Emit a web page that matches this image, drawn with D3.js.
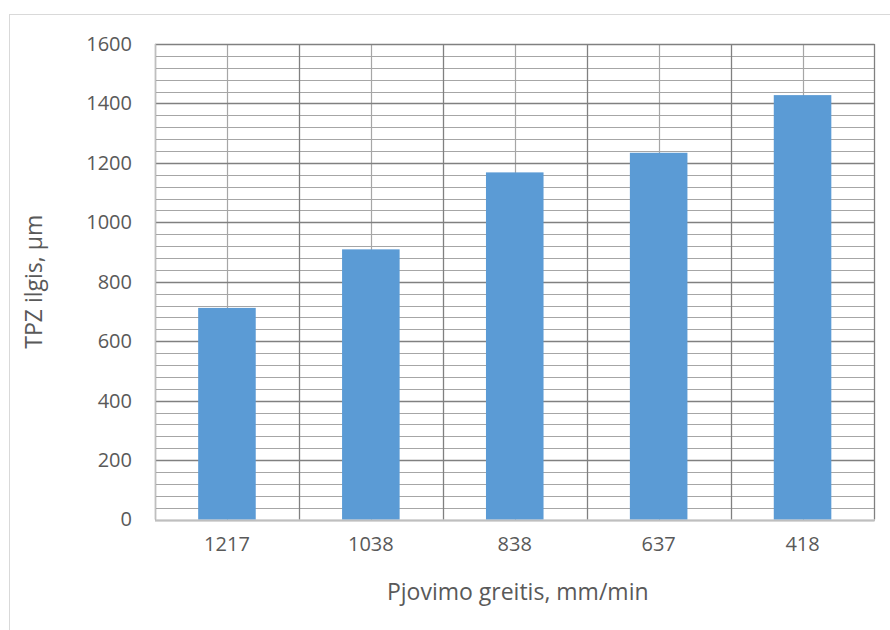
<!DOCTYPE html>
<html>
<head>
<meta charset="utf-8">
<script src="https://cdn.jsdelivr.net/npm/d3@7"></script>
<style>
  html, body { margin: 0; padding: 0; background: #fff; }
  svg { display: block; font-family: "Open Sans", "Noto Sans", sans-serif; }
</style>
</head>
<body>
<svg id="chart" width="890" height="630"></svg>
<script>
// Cutting speed categories (mm/min) and measured TPZ length (µm)
const categories = ["1217", "1038", "838", "637", "418"];
const values = [712, 909, 1168, 1234, 1428];
const yTickValues = [0, 200, 400, 600, 800, 1000, 1200, 1400, 1600];
const yMinorStep = 40;
const xTitle = "Pjovimo greitis, mm/min";
const yTitle = "TPZ ilgis, µm";

const svg = d3.select("#chart");
const W = 890, H = 630;
const plot = { left: 155, right: 874.5, top: 44, bottom: 519.5 };
const textColor = "#595959";

// Chart area frame
svg.append("rect")
  .attr("x", 9.5).attr("y", 14.5)
  .attr("width", W).attr("height", H)
  .attr("fill", "#fff").attr("stroke", "#d9d9d9").attr("stroke-width", 1);

const x = d3.scaleBand()
  .domain(categories)
  .range([plot.left, plot.right])
  .paddingInner(0.6)
  .paddingOuter(0.3);

const y = d3.scaleLinear()
  .domain([0, 1600])
  .range([plot.bottom, plot.top]);

const grid = svg.append("g");

// Minor horizontal gridlines
const minorVals = d3.range(0, 1600 + 1, yMinorStep).filter(v => v % 200 !== 0);
grid.selectAll("line.hmin").data(minorVals).join("line")
  .attr("x1", plot.left).attr("x2", plot.right)
  .attr("y1", d => Math.round(y(d)) + 0.5).attr("y2", d => Math.round(y(d)) + 0.5)
  .attr("stroke", "#a6a6a6").attr("stroke-width", 1.2);

// Minor vertical gridlines at category centres
grid.selectAll("line.vmin").data(categories).join("line")
  .attr("x1", d => Math.round(x(d) + x.bandwidth() / 2) + 0.5)
  .attr("x2", d => Math.round(x(d) + x.bandwidth() / 2) + 0.5)
  .attr("y1", plot.top).attr("y2", plot.bottom)
  .attr("stroke", "#a6a6a6").attr("stroke-width", 1.2);

// Major horizontal gridlines
grid.selectAll("line.hmaj").data(yTickValues).join("line")
  .attr("x1", plot.left).attr("x2", plot.right)
  .attr("y1", d => Math.round(y(d)) + 0.5).attr("y2", d => Math.round(y(d)) + 0.5)
  .attr("stroke", "#808080").attr("stroke-width", 1.3);

// Major vertical gridlines at category boundaries
const boundaries = categories.map(c => x(c) - x.step() * x.paddingOuter())
  .concat([x(categories[categories.length - 1]) + x.bandwidth() + x.step() * x.paddingOuter()]);
grid.selectAll("line.vmaj").data(boundaries).join("line")
  .attr("x1", d => Math.round(d) + 0.5).attr("x2", d => Math.round(d) + 0.5)
  .attr("y1", plot.top).attr("y2", plot.bottom)
  .attr("stroke", "#808080").attr("stroke-width", 1.3);

// Bars
svg.append("g").selectAll("rect").data(values).join("rect")
  .attr("x", (d, i) => x(categories[i]))
  .attr("width", x.bandwidth())
  .attr("y", d => y(d))
  .attr("height", d => y(0) - y(d))
  .attr("fill", "#5b9bd5");

// Axis lines
svg.append("line")
  .attr("x1", plot.left).attr("x2", plot.right)
  .attr("y1", Math.round(y(0)) + 0.5).attr("y2", Math.round(y(0)) + 0.5)
  .attr("stroke", "#bfbfbf").attr("stroke-width", 1.3);
svg.append("line")
  .attr("x1", plot.left + 0.5).attr("x2", plot.left + 0.5)
  .attr("y1", plot.top).attr("y2", plot.bottom)
  .attr("stroke", "#bfbfbf").attr("stroke-width", 1.3);

// Y axis labels
const yAxis = d3.axisLeft(y).tickValues(yTickValues).tickFormat(d3.format("d"))
  .tickSize(0).tickPadding(0);
const gy = svg.append("g").attr("transform", `translate(${plot.left - 23},0)`).call(yAxis);
gy.select(".domain").remove();
gy.selectAll("text")
  .attr("fill", textColor).attr("font-size", "20px")
  .attr("font-family", "'Open Sans', sans-serif");

// X axis labels
const xAxis = d3.axisBottom(x).tickSize(0).tickPadding(0);
const gx = svg.append("g").attr("transform", `translate(0,${plot.bottom + 17})`).call(xAxis);
gx.select(".domain").remove();
gx.selectAll("text")
  .attr("fill", textColor).attr("font-size", "20px")
  .attr("font-family", "'Open Sans', sans-serif");

// Axis titles
svg.append("text")
  .attr("x", (plot.left + plot.right) / 2 + 3)
  .attr("y", 600)
  .attr("text-anchor", "middle")
  .attr("fill", textColor).attr("font-size", "23px")
  .text(xTitle);

svg.append("text")
  .attr("transform", `translate(42,${(plot.top + plot.bottom) / 2}) rotate(-90)`)
  .attr("text-anchor", "middle")
  .attr("fill", textColor).attr("font-size", "23px")
  .text(yTitle);
</script>
</body>
</html>
